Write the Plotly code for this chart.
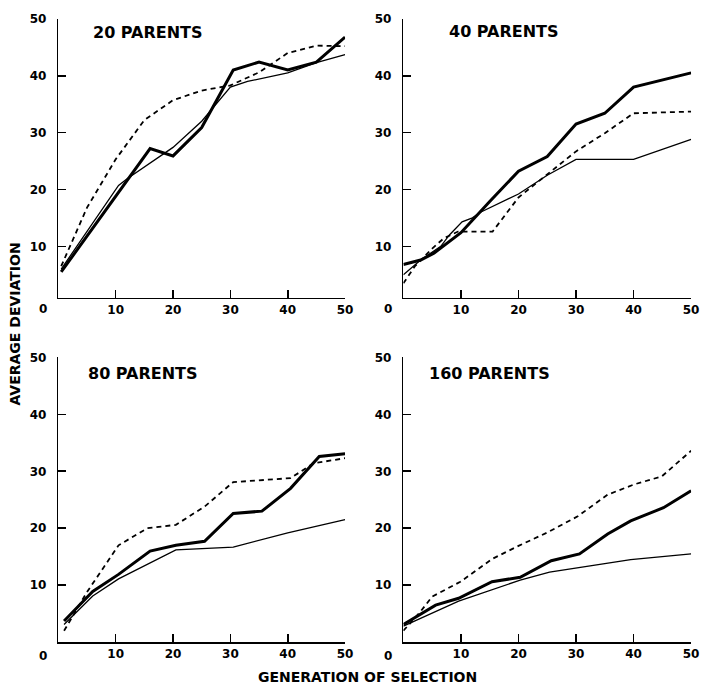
import plotly.graph_objects as go

# ---------------- data ----------------
panel_titles = ["20 PARENTS", "40 PARENTS", "80 PARENTS", "160 PARENTS"]
x_tick_vals = [10, 20, 30, 40, 50]
y_tick_vals = [10, 20, 30, 40, 50]

# 20 parents
p20_thick_x = [0.5, 11, 16, 20, 25, 30.5, 35, 40, 45, 50]
p20_thick_y = [5.5, 20.3, 27.2, 25.9, 30.9, 41, 42.4, 41, 42.4, 46.8]
p20_thin_x = [0.5, 10.5, 12, 20, 25, 28, 30, 33, 40, 45, 50]
p20_thin_y = [6, 20.7, 21.9, 27.4, 32, 35.5, 38, 39, 40.5, 42.3, 43.7]
p20_dash_x = [0.5, 2, 5, 10, 15, 20, 25, 30, 35, 40, 45, 50]
p20_dash_y = [6.5, 10, 16.8, 25.3, 32.2, 35.7, 37.4, 38.3, 40.6, 44, 45.3, 45.2]

# 40 parents
p40_thick_x = [0, 3, 5.3, 10, 15, 20, 25, 30, 35, 40, 50]
p40_thick_y = [6.8, 7.6, 8.8, 12.4, 17.9, 23.2, 25.8, 31.5, 33.4, 38, 40.5]
p40_thin_x = [0, 3, 6.5, 8, 10.2, 12, 13.4, 20, 25, 30, 40, 50]
p40_thin_y = [5, 7.6, 10, 12, 14.3, 15, 16, 19.2, 22.5, 25.3, 25.3, 28.8]
p40_dash_x = [0, 2, 5, 7, 9.5, 15.5, 20, 25, 30, 35, 40, 50]
p40_dash_y = [3.5, 6.5, 9.6, 11.4, 12.6, 12.6, 18.6, 22.7, 26.7, 29.9, 33.4, 33.7]

# 80 parents
p80_thick_x = [1, 6, 10.5, 16, 20.5, 25.5, 30.5, 35.5, 40.5, 45.5, 50]
p80_thick_y = [3.7, 8.9, 11.9, 16, 17, 17.7, 22.6, 23, 27, 32.6, 33.1]
p80_thin_x = [1, 6, 10.5, 20.5, 30.5, 40, 50]
p80_thin_y = [3.1, 8.1, 11.1, 16.2, 16.7, 19.2, 21.5]
p80_dash_x = [1, 5, 10.5, 15.5, 20.5, 25.5, 30.5, 35.5, 40.5, 44.5, 50]
p80_dash_y = [2, 8.8, 17, 20, 20.6, 23.8, 28.1, 28.5, 28.8, 31.4, 32.3]

# 160 parents
p160_thick_x = [0, 5.6, 9.6, 15.4, 20.3, 25.7, 30.6, 35.5, 39.5, 45.2, 50]
p160_thick_y = [3.1, 6.5, 7.7, 10.6, 11.4, 14.3, 15.5, 19, 21.3, 23.6, 26.6]
p160_thin_x = [0, 9.6, 20.3, 25.4, 39.5, 50]
p160_thin_y = [2.8, 7.2, 10.9, 12.3, 14.5, 15.5]
p160_dash_x = [0, 3, 5, 9.9, 15.4, 20, 25.1, 30.3, 35.5, 40.1, 44.9, 50]
p160_dash_y = [2, 5.4, 8, 10.6, 14.6, 16.9, 19.3, 22.1, 25.9, 27.7, 29.1, 33.6]

panels = [
    (p20_thick_x, p20_thick_y, p20_thin_x, p20_thin_y, p20_dash_x, p20_dash_y),
    (p40_thick_x, p40_thick_y, p40_thin_x, p40_thin_y, p40_dash_x, p40_dash_y),
    (p80_thick_x, p80_thick_y, p80_thin_x, p80_thin_y, p80_dash_x, p80_dash_y),
    (p160_thick_x, p160_thick_y, p160_thin_x, p160_thin_y, p160_dash_x, p160_dash_y),
]

# ---------------- layout geometry ----------------
W, H = 709, 686
FONT = "DejaVu Sans"
x_domains = [[59 / W, 349 / W], [408 / W, 699 / W], [59 / W, 349 / W], [408 / W, 699 / W]]
y_domains = [[1 - 293.5 / H, 1 - 12 / H], [1 - 293.5 / H, 1 - 12 / H],
             [1 - 641.7 / H, 1 - 354 / H], [1 - 641.7 / H, 1 - 354 / H]]
y_ranges = [[1, 50], [1, 50], [0, 50], [0, 50]]

fig = go.Figure()
layout = dict(
    width=W, height=H,
    margin=dict(l=0, r=0, t=0, b=0),
    paper_bgcolor="white", plot_bgcolor="white",
    showlegend=False,
    font=dict(family=FONT, color="black"),
)

for i, (tx, ty, nx, ny, dx, dy) in enumerate(panels):
    sfx = "" if i == 0 else str(i + 1)
    xa, ya = "x" + sfx, "y" + sfx
    fig.add_trace(go.Scatter(x=dx, y=dy, mode="lines", xaxis=xa, yaxis=ya,
                             line=dict(color="black", width=1.8, dash="5px,4px")))
    fig.add_trace(go.Scatter(x=nx, y=ny, mode="lines", xaxis=xa, yaxis=ya,
                             line=dict(color="black", width=1.3)))
    fig.add_trace(go.Scatter(x=tx, y=ty, mode="lines", xaxis=xa, yaxis=ya,
                             line=dict(color="black", width=3)))
    axis_common = dict(showgrid=False, zeroline=False, showline=True, linecolor="black",
                       linewidth=1.6, ticks="inside", ticklen=8, tickwidth=1.6,
                       tickcolor="black", fixedrange=True,
                       tickfont=dict(family=FONT, size=12, color="black", weight="bold"))
    layout["xaxis" + sfx] = dict(domain=x_domains[i], range=[0, 50], anchor=ya,
                                 tickvals=x_tick_vals, ticktext=[str(v) for v in x_tick_vals],
                                 **axis_common)
    layout["yaxis" + sfx] = dict(domain=y_domains[i], range=y_ranges[i], anchor=xa,
                                 tickvals=y_tick_vals, ticktext=[str(v) for v in y_tick_vals],
                                 ticklabelstandoff=8, **axis_common)

title_pos = [(92, 26), (452, 25), (87, 370), (432, 370)]
origin_pos = [(43, 305), (392, 305), (43, 656), (392, 656)]
annotations = []
for (tx, tyy), t in zip(title_pos, panel_titles):
    annotations.append(dict(x=tx / W, y=1 - tyy / H, xref="paper", yref="paper", text=t,
                            showarrow=False, xanchor="left", yanchor="middle",
                            font=dict(family=FONT, size=16, color="black", weight="bold")))
for (ox, oy) in origin_pos:
    annotations.append(dict(x=ox / W, y=1 - oy / H, xref="paper", yref="paper", text="0",
                            showarrow=False, xanchor="center", yanchor="middle",
                            font=dict(family=FONT, size=12, color="black", weight="bold")))
annotations.append(dict(x=15 / W, y=1 - 320 / H, xref="paper", yref="paper",
                        text="AVERAGE DEVIATION", textangle=-90, showarrow=False,
                        xanchor="center", yanchor="middle",
                        font=dict(family=FONT, size=14, color="black", weight="bold")))
annotations.append(dict(x=372 / W, y=1 - 677 / H, xref="paper", yref="paper",
                        text="GENERATION OF SELECTION", showarrow=False,
                        xanchor="center", yanchor="middle",
                        font=dict(family=FONT, size=14, color="black", weight="bold")))
layout["annotations"] = annotations

fig.update_layout(**layout)
fig.write_html("out.html",
               config={"displayModeBar": False, "staticPlot": True},
               post_script="document.body.style.margin='0';document.body.style.overflow='hidden';")
